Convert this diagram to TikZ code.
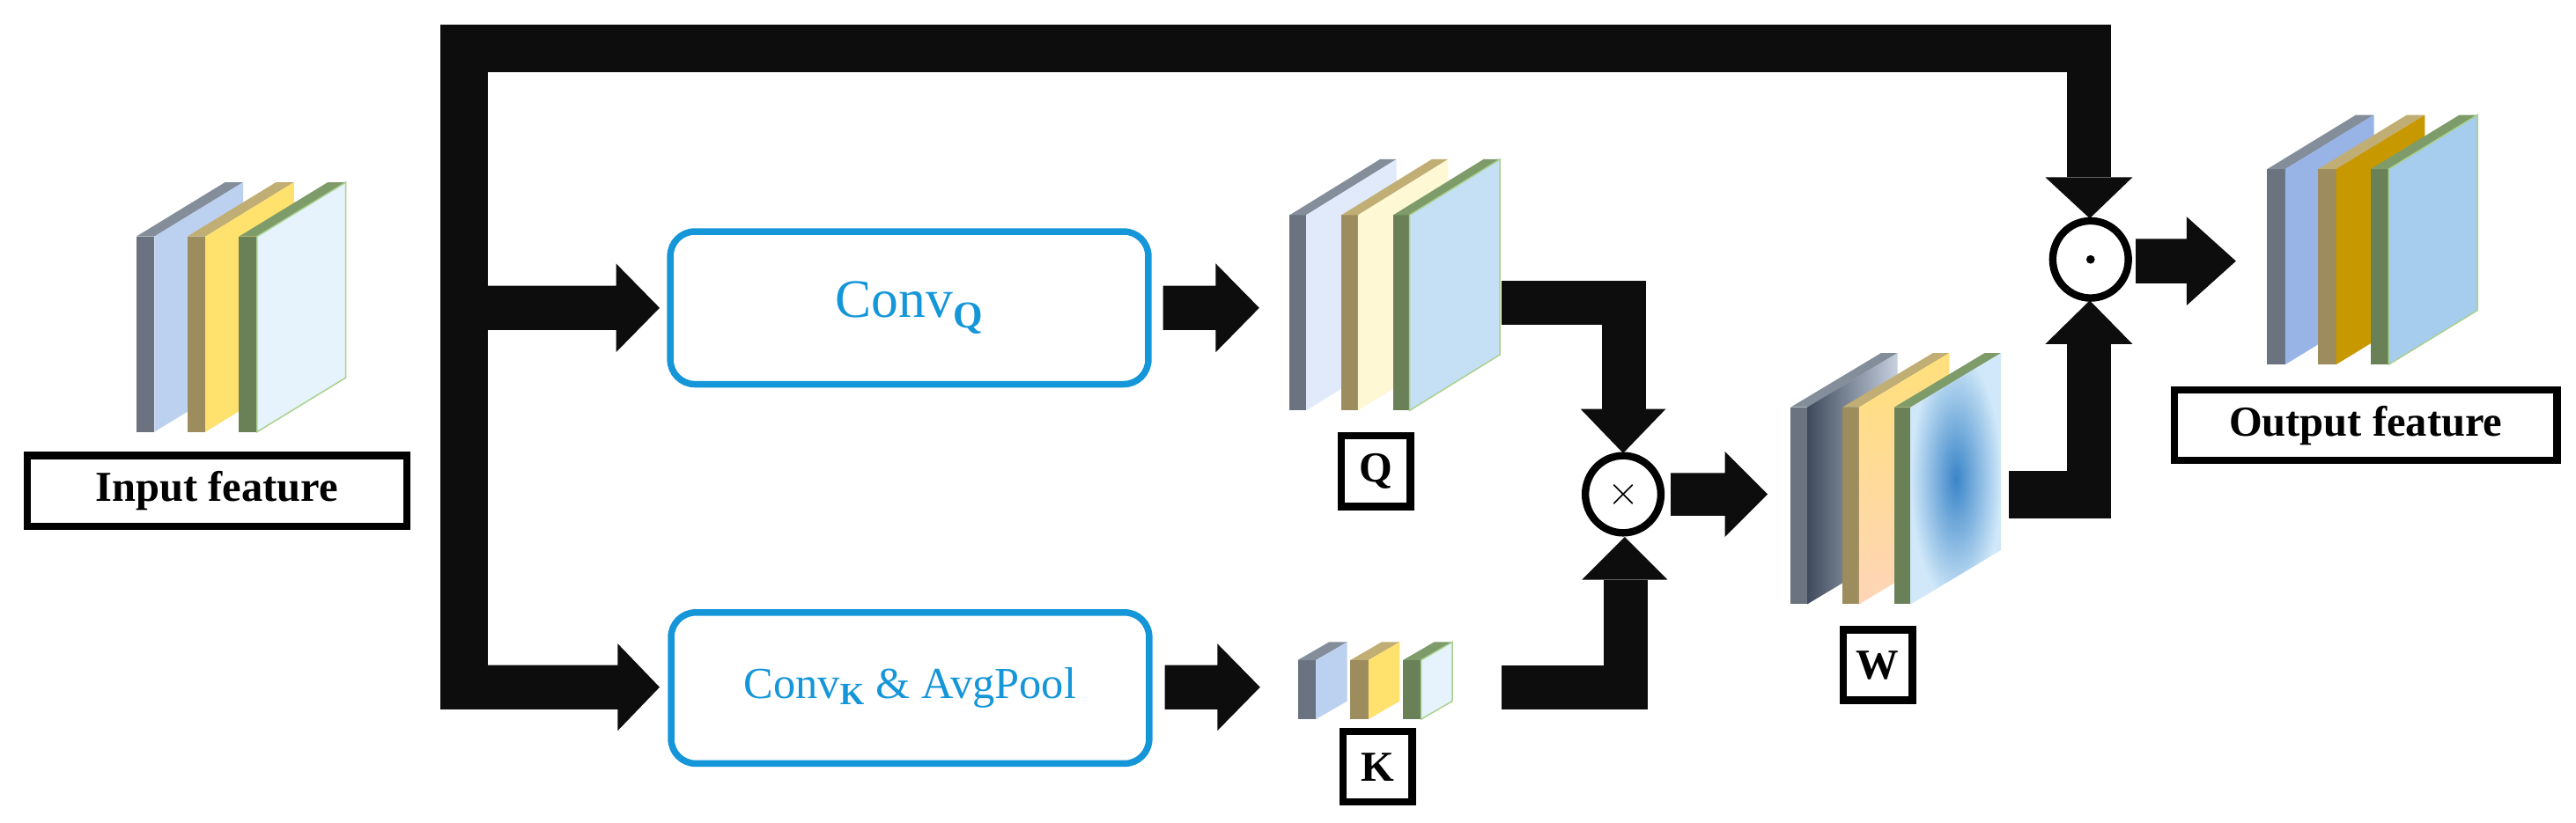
\documentclass[tikz,border=0pt]{standalone}
\usepackage{fontspec}
\setmainfont{Liberation Serif}
\usetikzlibrary{shapes.geometric}
\begin{document}
\newcommand{\plate}[9]{%
  \fill[#7] (#1,#2) rectangle (#1+#3,#2+#5);
  \fill[#8] (#1,#2)--(#1+#3,#2)--(#1+#3+#4,#2-#6)--(#1+#4,#2-#6)--cycle;
  \path[#9] (#1+#3,#2)--(#1+#3+#4,#2-#6)--(#1+#3+#4,#2+#5-#6)--(#1+#3,#2+#5)--cycle;}
\newcommand{\rarr}[6]{% x1 x2 xtip yc hb hh
  \fill[black!95] (#1,#4-#5)--(#2,#4-#5)--(#2,#4-#6)--(#3,#4)--(#2,#4+#6)--(#2,#4+#5)--(#1,#4+#5)--cycle;}
\definecolor{convblue}{HTML}{1596D8}
\definecolor{gA}{HTML}{6B7380}\definecolor{gAt}{HTML}{848E9A}
\definecolor{yA}{HTML}{9C8C5E}\definecolor{yAt}{HTML}{C1AE74}
\definecolor{nA}{HTML}{6A8158}\definecolor{nAt}{HTML}{7E9C6A}
\definecolor{brd}{HTML}{A9D18E}
\definecolor{f1}{HTML}{BCD0EF}\definecolor{f2}{HTML}{FFE16E}\definecolor{f3}{HTML}{E6F3FC}
\definecolor{q1}{HTML}{E0EAFB}\definecolor{q2}{HTML}{FFF8D4}\definecolor{q3}{HTML}{C5DFF5}
\definecolor{o1}{HTML}{98B3E6}\definecolor{o2}{HTML}{C89800}\definecolor{o3}{HTML}{A6CCEE}
\definecolor{w1a}{HTML}{3F4A5C}\definecolor{w1b}{HTML}{C6D0DF}
\definecolor{w2a}{HTML}{FFE07A}\definecolor{w2b}{HTML}{FFD5B8}
\definecolor{w3a}{HTML}{3A85C8}\definecolor{w3b}{HTML}{D0E8F9}
\begin{tikzpicture}[x=1pt,y=-1pt,
  lbl/.style={draw=black,line width=4.5pt,fill=white,inner sep=0pt,font=\fontsize{26}{28}\selectfont\bfseries},
  conv/.style={draw=convblue,line width=4pt,rounded corners=15pt,text=convblue},
  op/.style={draw=black,line width=4.5pt,ellipse,fill=white,minimum width=46pt,minimum height=47pt,inner sep=0pt}]
\useasboundingbox (0,0) rectangle (1568,501);
\fill[white] (0,0) rectangle (1568,501);
% main bars
\fill[black!95] (268,15) rectangle (1285,44);
\fill[black!95] (268,15) rectangle (297,432);
\fill[black!95] (1258,15) rectangle (1285,108);
\fill[black!95] (1245,108)--(1298,108)--(1272,133)--cycle;
% branches
\rarr{297}{375}{401.5}{187.5}{13.5}{27}
\rarr{297}{376}{401.5}{418.5}{13.5}{26.5}
\rarr{708}{740}{766.5}{187.5}{13.5}{27}
\rarr{709}{741}{767}{418.5}{13.5}{26.5}
% Q to times
\fill[black!95] (914,171) rectangle (1002,198);
\fill[black!95] (975,171) rectangle (1002,249);
\fill[black!95] (962,249)--(1014,249)--(988,276)--cycle;
% K to times
\fill[black!95] (914,405) rectangle (1003,432);
\fill[black!95] (976,353) rectangle (1003,432);
\fill[black!95] (963,353)--(1015,353)--(989,327)--cycle;
% times to W
\rarr{1017}{1050}{1076}{301}{13}{26}
% W to odot
\fill[black!95] (1223,287) rectangle (1285,316);
\fill[black!95] (1258,209) rectangle (1285,316);
\fill[black!95] (1245,209.5)--(1298,209.5)--(1272,183)--cycle;
% odot to output
\rarr{1300}{1331}{1361}{159}{13.5}{27}
% operator nodes
\node[op,font=\fontsize{26}{26}\selectfont\bfseries] (mul) at (988,301) {$\times$};
\node[op] (had) at (1272.5,158) {};
\fill (had.center) circle (2.6);
% conv boxes
\node[conv,minimum width=291pt,minimum height=93pt,font=\fontsize{33}{36}\selectfont] (cq) at (553.5,187.5) {Conv\textsubscript{\bfseries Q}};
\node[conv,minimum width=291pt,minimum height=92pt,font=\fontsize{27}{30}\selectfont] (ck) at (554,419) {Conv\textsubscript{\bfseries K} \& AvgPool};
% plates input
\plate{83}{144}{11}{54}{119}{33}{gA}{gAt}{fill=f1}
\plate{114}{144}{11}{54}{119}{33}{yA}{yAt}{fill=f2}
\plate{145.5}{144}{11}{54}{119}{33}{nA}{nAt}{fill=f3,draw=brd,line width=0.8pt}
% Q plates
\plate{785}{131}{10}{55}{119}{34}{gA}{gAt}{fill=q1}
\plate{816.5}{131}{10}{55}{119}{34}{yA}{yAt}{fill=q2}
\plate{848}{131}{10}{55}{119}{34}{nA}{nAt}{fill=q3,draw=brd,line width=0.8pt}
% K plates
\plate{790}{402}{11}{19}{36}{11}{gA}{gAt}{fill=f1}
\plate{822}{402}{11}{19}{36}{11}{yA}{yAt}{fill=f2}
\plate{854}{402}{11}{19}{36}{11}{nA}{nAt}{fill=f3,draw=brd,line width=0.8pt}
% W plates
\plate{1090}{248}{10}{55}{120}{33}{gA}{gAt}{left color=w1a,right color=w1b}
\plate{1121.5}{248}{10}{55}{120}{33}{yA}{yAt}{top color=w2a,bottom color=w2b}
\plate{1153}{248}{10}{55}{120}{33}{nA}{nAt}{inner color=w3a,outer color=w3b}
% output plates
\plate{1380}{103}{11}{54}{119}{33}{gA}{gAt}{fill=o1}
\plate{1411}{103}{11}{54}{119}{33}{yA}{yAt}{fill=o2}
\plate{1443}{103}{11}{54}{119}{33}{nA}{nAt}{fill=o3,draw=brd,line width=0.8pt}
% labels
\node[lbl,minimum width=231pt,minimum height=43pt] (inp) at (132,299) {Input feature};
\node[lbl,minimum width=233pt,minimum height=43pt] (outp) at (1440,259) {Output feature};
\node[lbl,minimum width=42pt,minimum height=43pt] (lq) at (837.5,287) {Q};
\node[lbl,minimum width=42pt,minimum height=43pt] (lk) at (838.5,467) {K};
\node[lbl,minimum width=42pt,minimum height=43pt] (lw) at (1143,405) {W};
\end{tikzpicture}
\end{document}
